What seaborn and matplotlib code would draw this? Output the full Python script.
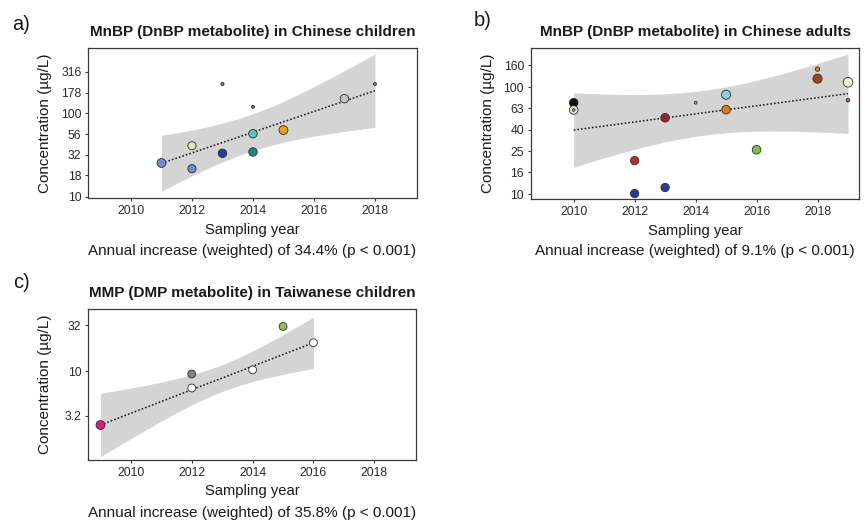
import numpy as np
import pandas as pd
import matplotlib
matplotlib.use("Agg")
import matplotlib.pyplot as plt
import seaborn as sns
from matplotlib.ticker import FixedLocator, FixedFormatter, NullLocator

# ---------------- data ----------------
# a) MnBP in Chinese children
years_a = [2011, 2012, 2012, 2013, 2013, 2014, 2014, 2014, 2015, 2017, 2018]
conc_a = [25.4, 40.9, 21.7, 225, 33.2, 120, 57.0, 34.4, 63.0, 150, 225]
n_a = [32, 27, 27, 4, 29, 3.5, 29, 29, 32, 29, 3.5]          # relative sample size (marker area)
colors_a = ['#6c8fd4', '#e6e1c4', '#6a8dd2', '#8a7d70', '#283d96', '#6f6f6f',
            '#5cc4c6', '#138b8a', '#e2a11c', '#c4c4c4', '#d0703c']
trend_years_a = [2011, 2018]
trend_a = [25.2, 187]
band_years_a = [2011, 2011.5, 2012, 2012.5, 2013, 2013.5, 2014, 2014.5,
                2015, 2015.5, 2016, 2016.5, 2017, 2017.5, 2018]
band_lo_a = [11.61, 14.45, 17.84, 21.78, 26.06, 30.93, 35.74, 40.50,
             45.06, 49.23, 53.23, 57.04, 60.76, 64.35, 67.92]
band_hi_a = [54.58, 58.41, 63.01, 68.76, 76.55, 85.87, 98.92, 116.3,
             139.2, 169.7, 209.0, 259.8, 324.9, 408.4, 515.2]
yticks_a = [10, 18, 32, 56, 100, 178, 316]
ylim_a = (9.57, 604)

# b) MnBP in Chinese adults
years_b = [2010, 2010, 2010, 2012, 2012, 2013, 2013, 2014, 2015, 2015, 2016, 2018, 2018, 2019, 2019]
conc_b = [71.3, 61.0, 61.0, 20.5, 10.1, 51.6, 11.5, 71.3, 84.7, 61.4, 25.9, 147, 119.7, 110.7, 75.2]
n_b = [30, 30, 3, 28, 28, 30, 28, 3.2, 34, 30, 30, 7.8, 34, 37, 5.2]
colors_b = ['#0d0d0d', '#f2e4d4', '#c4a07c', '#bf2a2e', '#203c9c', '#a2212b', '#243f9b',
            '#c6a47e', '#8ccfe0', '#e5761f', '#7dbf4b', '#e27b2b', '#9a4a12', '#faf6e4', '#d5504a']
trend_years_b = [2010, 2019]
trend_b = [39.6, 86.7]
band_years_b = [2010, 2010.5, 2011, 2011.5, 2012, 2012.5, 2013, 2013.5, 2014, 2014.5,
                2015, 2015.5, 2016, 2016.5, 2017, 2017.5, 2018, 2018.5, 2019]
band_lo_b = [17.80, 19.71, 21.76, 23.92, 26.17, 28.44, 30.68, 32.77, 34.64, 36.20,
             37.39, 38.20, 38.66, 38.83, 38.74, 38.44, 38.00, 37.45, 36.80]
band_hi_b = [88.2, 86.9, 85.9, 85.2, 85.0, 85.3, 86.3, 88.0, 90.9, 94.9,
             100.2, 106.9, 115.3, 125.2, 136.9, 150.4, 166.1, 183.9, 204.1]
yticks_b = [10, 16, 25, 40, 63, 100, 160]
ylim_b = (8.98, 230)

# c) MMP in Taiwanese children
years_c = [2009, 2012, 2012, 2014, 2015, 2016]
conc_c = [2.54, 9.27, 6.5, 10.3, 31.0, 20.5]
n_c = [32, 25, 25, 25, 25, 25]
colors_c = ['#e0197b', '#7b8682', '#ffffff', '#ffffff', '#8cbf4e', '#ffffff']
trend_years_c = [2009, 2016]
trend_c = [2.54, 20.5]
band_years_c = [2009, 2009.5, 2010, 2010.5, 2011, 2011.5, 2012, 2012.5,
                2013, 2013.5, 2014, 2014.5, 2015, 2015.5, 2016]
band_lo_c = [1.135, 1.430, 1.798, 2.251, 2.806, 3.467, 4.235, 5.082,
             5.965, 6.830, 7.653, 8.433, 9.186, 9.929, 10.68]
band_hi_c = [5.665, 6.058, 6.494, 6.987, 7.560, 8.245, 9.100, 10.22,
             11.74, 13.82, 16.62, 20.33, 25.15, 31.36, 39.30]
yticks_c = [3.2, 10, 32]
ylim_c = (1.045, 48.3)

xticks = [2010, 2012, 2014, 2016, 2018]
xlim = (2008.6, 2019.37)

titles = ["MnBP (DnBP metabolite) in Chinese children",
          "MnBP (DnBP metabolite) in Chinese adults",
          "MMP (DMP metabolite) in Taiwanese children"]
notes = ["Annual increase (weighted) of 34.4% (p < 0.001)",
         "Annual increase (weighted) of 9.1% (p < 0.001)",
         "Annual increase (weighted) of 35.8% (p < 0.001)"]

# ---------------- style ----------------
sns.set_theme(style="ticks")
plt.rcParams['font.family'] = ['Liberation Sans', 'DejaVu Sans']
plt.rcParams['axes.edgecolor'] = '#3a3a3a'
plt.rcParams['axes.linewidth'] = 0.9

W, H = 867, 520
fig = plt.figure(figsize=(W / 100, H / 100), dpi=100)
fig.patch.set_facecolor('white')

boxes = [(88.3, 48.3, 416.7, 198.3), (531.0, 48.3, 859.3, 199.0), (88.3, 309.0, 416.0, 460.0)]


def make_axes(box):
    l, t, r, b = box
    return fig.add_axes([l / W, 1 - b / H, (r - l) / W, (b - t) / H])


def fmt(v):
    return ('%g' % v)


def panel(ax, box, years, conc, n, colors, band_years, band_lo, band_hi,
          trend_years, trend_vals, yticks, ylim, title, note):
    l, t, r, b = box
    wpx, hpx = r - l, b - t
    ax.set_yscale('log')
    ax.fill_between(band_years, band_lo, band_hi, color='#d4d4d4', linewidth=0, zorder=1)
    sns.lineplot(x=trend_years, y=trend_vals, ax=ax, color='#1a1a1a', linewidth=1.15,
                 linestyle=(0, (1, 1.3)), zorder=2)
    ids = ['p%d' % i for i in range(len(years))]
    df = pd.DataFrame({'year': years, 'conc': conc, 'n': n, 'id': ids})
    sns.scatterplot(data=df, x='year', y='conc', hue='id', palette=dict(zip(ids, colors)),
                    size='n', sizes=(0, 128), size_norm=(0, 100), legend=False,
                    edgecolor='#2e2e2e', linewidth=0.6, ax=ax, zorder=3)
    ax.set_xlim(*xlim)
    ax.set_ylim(*ylim)
    ax.xaxis.set_major_locator(FixedLocator(xticks))
    ax.xaxis.set_major_formatter(FixedFormatter([str(v) for v in xticks]))
    ax.yaxis.set_major_locator(FixedLocator(yticks))
    ax.yaxis.set_major_formatter(FixedFormatter([fmt(v) for v in yticks]))
    ax.yaxis.set_minor_locator(NullLocator())
    ax.xaxis.set_minor_locator(NullLocator())
    ax.tick_params(axis='both', which='major', length=2.5, width=0.8, pad=2.5,
                   labelsize=8.8, color='#3a3a3a', labelcolor='#2a2a2a')
    for s in ax.spines.values():
        s.set_visible(True)
        s.set_color('#3a3a3a')
        s.set_linewidth(0.9)
    ax.grid(False)
    ax.set_facecolor('white')
    ax.set_xlabel("Sampling year", fontsize=10.6, color='#1a1a1a')
    ax.xaxis.label.set_verticalalignment('center')
    ax.xaxis.set_label_coords(0.5, -31.5 / hpx)
    ax.set_ylabel("Concentration (\u00b5g/L)", fontsize=11, color='#1a1a1a')
    ax.yaxis.label.set_verticalalignment('center')
    ax.yaxis.set_label_coords(-43 / wpx, 0.5)
    ax.text(0.5, 1 + 16 / hpx, title, transform=ax.transAxes, ha='center', va='center',
            fontsize=11, fontweight='bold', color='#1a1a1a')
    ax.text(0.5, -52.5 / hpx, note, transform=ax.transAxes, ha='center', va='center',
            fontsize=11, color='#1a1a1a')


ax_a = make_axes(boxes[0])
panel(ax_a, boxes[0], years_a, conc_a, n_a, colors_a, band_years_a, band_lo_a, band_hi_a,
      trend_years_a, trend_a, yticks_a, ylim_a, titles[0], notes[0])
ax_b = make_axes(boxes[1])
panel(ax_b, boxes[1], years_b, conc_b, n_b, colors_b, band_years_b, band_lo_b, band_hi_b,
      trend_years_b, trend_b, yticks_b, ylim_b, titles[1], notes[1])
ax_c = make_axes(boxes[2])
panel(ax_c, boxes[2], years_c, conc_c, n_c, colors_c, band_years_c, band_lo_c, band_hi_c,
      trend_years_c, trend_c, yticks_c, ylim_c, titles[2], notes[2])

fig.text(21 / W, 1 - 24 / H, 'a)', fontsize=14.5, ha='center', va='center', color='#1a1a1a')
fig.text(483 / W, 1 - 20 / H, 'b)', fontsize=14.5, ha='center', va='center', color='#1a1a1a')
fig.text(22 / W, 1 - 283 / H, 'c)', fontsize=14.5, ha='center', va='center', color='#1a1a1a')

fig.savefig('out.png', dpi=100, facecolor='white')
